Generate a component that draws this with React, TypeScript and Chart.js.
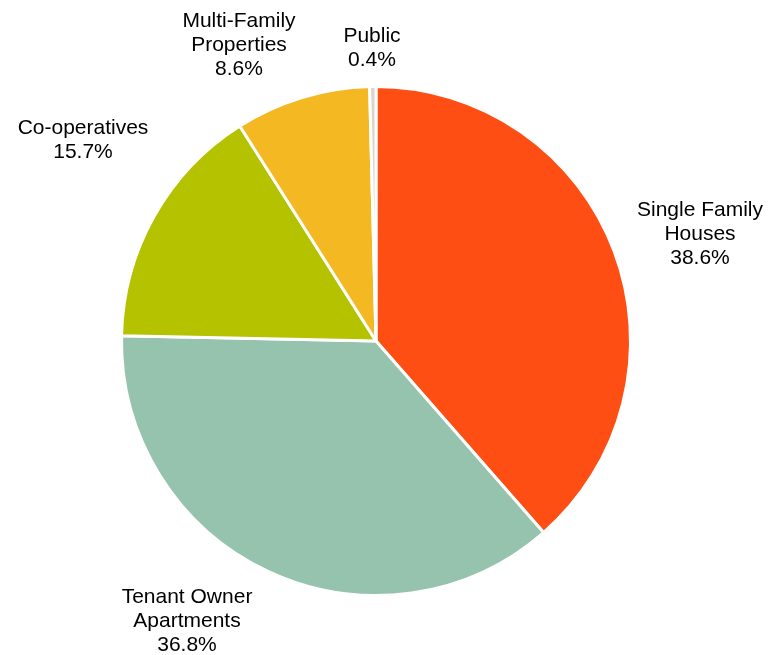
import React, { useEffect, useRef } from "react";
import { Chart, registerables } from "chart.js";

Chart.register(...registerables);

const categories = [
  "Single Family Houses",
  "Tenant Owner Apartments",
  "Co-operatives",
  "Multi-Family Properties",
  "Public",
];
const values = [38.6, 36.8, 15.7, 8.6, 0.4];
const labelLines = [
  ["Single Family", "Houses", "38.6%"],
  ["Tenant Owner", "Apartments", "36.8%"],
  ["Co-operatives", "15.7%"],
  ["Multi-Family", "Properties", "8.6%"],
  ["Public", "0.4%"],
];
const colors = ["#FF4E13", "#96C3AE", "#B4C200", "#F4B823", "#D9D5CC"];
// label anchor positions (canvas pixels, centre of first line)
const labelPos = [
  [700, 210],
  [187, 597],
  [83, 128],
  [239, 21],
  [372, 36],
];

const labelPlugin = {
  id: "outerLabels",
  afterDraw(chart: any) {
    const ctx = chart.ctx;
    ctx.save();
    ctx.font = "21px 'Liberation Sans', Arial, sans-serif";
    ctx.fillStyle = "#000";
    ctx.textAlign = "center";
    ctx.textBaseline = "middle";
    labelLines.forEach((lines, i) => {
      const [x, y] = labelPos[i];
      lines.forEach((t, j) => ctx.fillText(t, x, y + j * 24));
    });
    ctx.restore();
  },
};

export default function App() {
  const ref = useRef<HTMLCanvasElement>(null);
  useEffect(() => {
    document.body.style.margin = "0";
    const chart = new Chart(ref.current!, {
      type: "pie",
      data: {
        labels: categories,
        datasets: [
          {
            data: values,
            backgroundColor: colors,
            borderColor: "#FFFFFF",
            borderWidth: 3,
          },
        ],
      },
      options: {
        responsive: false,
        animation: false,
        layout: { padding: { left: 120, top: 85, right: 137, bottom: 58 } },
        plugins: { legend: { display: false }, tooltip: { enabled: false } },
      },
      plugins: [labelPlugin],
    });
    return () => chart.destroy();
  }, []);
  return (
    <div style={{ width: 769, height: 655, background: "#fff" }}>
      <canvas ref={ref} width={769} height={655} />
    </div>
  );
}
